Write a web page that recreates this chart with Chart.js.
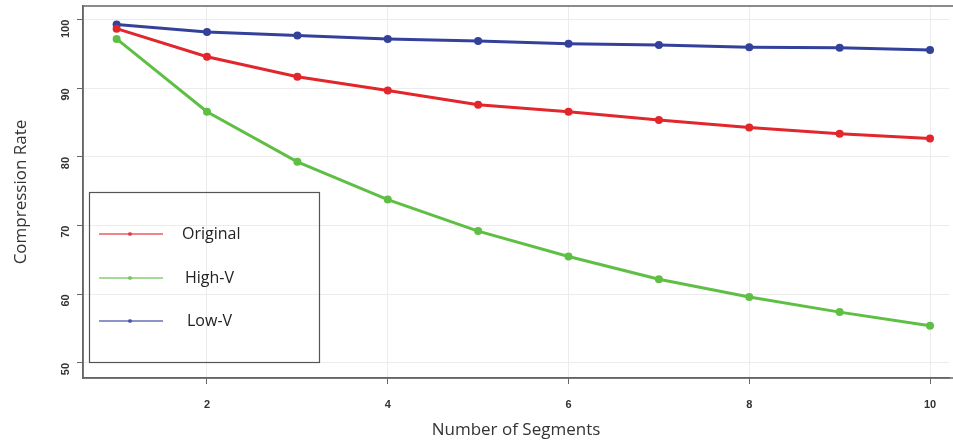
<!DOCTYPE html>
<html>
<head>
<meta charset="utf-8">
<script src="https://cdn.jsdelivr.net/npm/chart.js@4/dist/chart.umd.min.js"></script>
<style>
  html, body { margin: 0; padding: 0; background: #fff; }
  #wrap { width: 953px; height: 444px; }
</style>
</head>
<body>
<div id="wrap"><canvas id="chart"></canvas></div>
<script>
// Datos
const segments = [1, 2, 3, 4, 5, 6, 7, 8, 9, 10];
const original = [98.7, 94.6, 91.7, 89.7, 87.6, 86.6, 85.4, 84.3, 83.4, 82.7];
const highV = [97.2, 86.6, 79.3, 73.8, 69.2, 65.5, 62.2, 59.6, 57.4, 55.4];
const lowV = [99.3, 98.2, 97.7, 97.2, 96.9, 96.5, 96.3, 96.0, 95.9, 95.6];
const xTicks = [2, 4, 6, 8, 10];
const yTicks = [50, 60, 70, 80, 90, 100];

const toPoints = arr => arr.map((v, i) => ({ x: segments[i], y: v }));

// Caja de leyenda dibujada dentro del área del gráfico
const legendBox = {
  id: 'legendBox',
  afterDraw(chart) {
    const ctx = chart.ctx;
    ctx.save();
    ctx.strokeStyle = '#555';
    ctx.lineWidth = 1.2;
    ctx.strokeRect(89.5, 192.5, 230, 170);
    const rows = [234, 278, 321];
    const textX = [182, 185, 187];
    chart.data.datasets.forEach((ds, i) => {
      const y = rows[i];
      ctx.strokeStyle = ds.borderColor;
      ctx.globalAlpha = 0.75;
      ctx.lineWidth = 1.5;
      ctx.beginPath();
      ctx.moveTo(99, y);
      ctx.lineTo(163, y);
      ctx.stroke();
      ctx.fillStyle = ds.borderColor;
      ctx.beginPath();
      ctx.arc(130, y, 2, 0, Math.PI * 2);
      ctx.fill();
      ctx.globalAlpha = 1;
      ctx.fillStyle = '#222';
      ctx.font = '16px "Open Sans", sans-serif';
      ctx.textBaseline = 'middle';
      ctx.fillText(ds.label, textX[i], y);
    });
    // marco completo del área
    const a = chart.chartArea;
    ctx.strokeStyle = '#666';
    ctx.lineWidth = 1.5;
    ctx.strokeRect(a.left, a.top, a.right - a.left + 10, a.bottom - a.top);
    ctx.restore();
  }
};

const ctx = document.getElementById('chart').getContext('2d');
new Chart(ctx, {
  type: 'line',
  data: {
    datasets: [
      { label: 'Original', data: toPoints(original), borderColor: '#e1262c', backgroundColor: '#e1262c' },
      { label: 'High-V', data: toPoints(highV), borderColor: '#5fbf45', backgroundColor: '#5fbf45' },
      { label: 'Low-V', data: toPoints(lowV), borderColor: '#34419b', backgroundColor: '#34419b' }
    ].map(d => Object.assign(d, { borderWidth: 3, pointRadius: 4, pointBorderWidth: 0, tension: 0, fill: false }))
  },
  options: {
    responsive: true,
    maintainAspectRatio: false,
    animation: false,
    layout: { padding: { top: 6, right: 0, left: 0, bottom: 0 } },
    plugins: { legend: { display: false }, tooltip: { enabled: false } },
    scales: {
      x: {
        type: 'linear',
        min: 0.628,
        max: 10.21,
        afterBuildTicks: s => { s.ticks = xTicks.map(v => ({ value: v })); },
        afterFit: s => { s.height = 66; },
        grid: { color: '#ececec', tickColor: '#666', tickLength: 6 },
        border: { color: '#666', width: 1.5 },
        ticks: { color: '#333', font: { family: 'Liberation Sans', size: 11, weight: 'bold' }, padding: 14, maxRotation: 0 },
        title: { display: true, text: 'Number of Segments', color: '#333', font: { family: 'Open Sans', size: 17 }, padding: { top: 2 } }
      },
      y: {
        min: 47.8,
        max: 102,
        afterBuildTicks: s => { s.ticks = yTicks.map(v => ({ value: v })); },
        afterFit: s => { s.width = 83; s.paddingTop = 0; s.paddingBottom = 0; },
        grid: { color: '#ececec', tickColor: '#666', tickLength: 6 },
        border: { color: '#666', width: 1.5 },
        ticks: { color: '#333', font: { family: 'Liberation Sans', size: 11, weight: 'bold' }, padding: 11, minRotation: 90, maxRotation: 90 },
        title: { display: true, text: 'Compression Rate', color: '#333', font: { family: 'Open Sans', size: 17 }, padding: { top: 11, bottom: 20 } }
      }
    }
  },
  plugins: [legendBox]
});
</script>
</body>
</html>
